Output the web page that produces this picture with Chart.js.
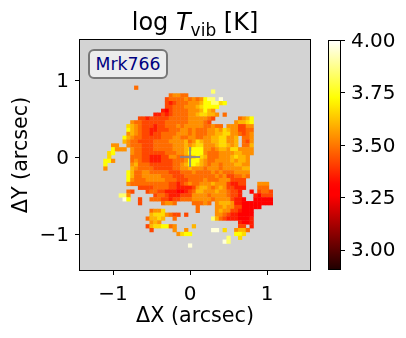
<!DOCTYPE html>
<html>
<head>
<meta charset="utf-8">
<script src="https://cdn.jsdelivr.net/npm/chart.js@4"></script>
<style>
  html, body { margin: 0; background: #fff; }
  body { position: relative; width: 406px; height: 338px; overflow: hidden; font-family: "DejaVu Sans"; }
  canvas { position: absolute; top: 0; }
  #title { position: absolute; left: 0; top: 8px; width: 390px; text-align: center; font-size: 24px; color: #000; }
  #title sub { font-size: 17px; line-height: 0; }
  #tag { position: absolute; left: 88px; top: 49px; width: 76px; height: 26px; line-height: 26px; text-align: center;
         font-size: 17.3px; color: #000080; background: #ececec; border: 2px solid #777; border-radius: 6px; }
</style>
</head>
<body>
<canvas id="map" width="406" height="338"></canvas>
<canvas id="bar" width="86" height="338" style="left:320px"></canvas>
<div id="title">log <i>T</i><sub>vib</sub> [K]</div>
<div id="tag">Mrk766</div>
<script>
// log Tvib per letter
const levels = { r: 3.30, R: 3.35, o: 3.42, O: 3.48, a: 3.54, A: 3.60, y: 3.66, Y: 3.72, w: 3.84, W: 3.96 };

// one spaxel = 0.05 arcsec, '.' is an empty spaxel
// rowWest starts at column -22, rowEast at column 2
const rowIndex = [18, 17, 16, 15, 14, 13, 12, 11, 10, 9, 8, 7, 6, 5, 4, 3, 2, 1, 0, -1, -2, -3, -4, -5, -6, -7, -8, -9, -10, -11, -12, -13, -14, -15, -16, -17, -18, -19, -20, -21, -22, -23];
const rowWest = [
  "........O",
  "",
  ".................OaaOO",
  "................oOOOOaOa",
  "................oRoOOOaa",
  "................ooOOOaaa",
  "...............RroOOOOaa",
  ".............RRoRoOOOOaa",
  ".........ooRoooooOOOOOaa",
  ".......aOOooooooOOOOOOaa",
  "......yAaOoooRooOOOaOaaa",
  "......YAaOooRRoooOOOaaOa",
  "......aAaOooRooOOOOaaaOa",
  ".....YAaOOoooooOOOaaOOaa",
  ".....AaOOooooOOOOaaaaAOa",
  "..aa..aOOOoooOOOOOaaaAaA",
  "..Yaaa.aOOoooOOOOOaaaAyY",
  ".yY....aOOooooooOOOaaAYY",
  ".y.....OOOooRRRooaaOOaAy",
  "YYa....OaOooRRRoooOOOaYY",
  "Y......aAOOOooooooOOaAYY",
  "a......AaOOOOoooooOOaaAa",
  "......YAOOaaOOOOOoooOOOa",
  "......YAOOaaaaaOOOoooOOO",
  "......YaOOOaaaaaOOOoooOO",
  "......aOOOOOOOOOOooRoOaO",
  ".........ooooOOOOooRRRRo",
  "......Oo...oOOooRRRrrRoO",
  "....wwa......oOOoRRRoooa",
  ".....WY..o..OOOooRooOOOa",
  ".........o.....OaaO....O",
  "",
  "............Oaay",
  "............AyyyaOoo.o",
  "...........OAAyA..O",
  "............aAa",
  "...........oAyyYYOa....A",
  "............o.....a..a",
  "...................ayYY",
  "",
  "",
  "......................W"
];
const rowEast = [
  "",
  "....w",
  "",
  "OaYww.W",
  "aAYYwwyY",
  "AyYYYY",
  "aAYAa",
  "AyyAAa.O",
  "aaaOo......OaAY",
  "aaOo......aAAyY",
  "aaOOaOO.aaaooaa",
  "OOOaaAayAaaooOO",
  "OOOaaAAyyaaOoOa",
  "OOaaAAyyaaA.OOa",
  "yAaaAAyyaaA.Ooa",
  "yyaaaAyyAaA.OOA",
  "YYaaOaAAayyaaaa",
  "YYaOOOaaaaAAaaa",
  "YyAOOOaaaAyAAa",
  "YAaOOaaaaAaAAa",
  "yAaOaaOaaaAAaa",
  "aaOaaaOaaaaaAA",
  "OOOOaOaOOOaaaa",
  "OOOOOaOaooOOaO",
  "OOaOOOaaaoooo",
  "OaaaAaaaoRRoo...aaa",
  "aAAaOaAaooRRR...OOO",
  "AAaaaAaaOooR..r.oOOo",
  "aaaOaaaaOooR...Rrooo",
  "aaaaOaaaaoRRr..rrrrr",
  "OOaO.aAAAaRRrrrrrrrr",
  "O....aaAaaoorrrrr",
  "O....aAaaooRrrr",
  ".....aaOoRRrrrr",
  "....wAOoRRRrrrR",
  "...........RrrR",
  "...........oo.R",
  "....WW.y..aAAO",
  "..........YYy",
  "........w..y",
  ".......Ww",
  ""
];

// tick labels
const mapTicks = [-1, 0, 1];
const barTicks = [3.00, 3.25, 3.50, 3.75, 4.00];
const barRange = [2.903, 4.0];
const starPos = [{ x: 0, y: 0 }];

const spaxel = 0.05;

// matplotlib "hot": black to red to yellow to white
function hot(v) {
  let t = (v - barRange[0]) / (barRange[1] - barRange[0]);
  let r = Math.min(1, (t + 0.0416) / 0.3651);
  let g = Math.max(0, Math.min(1, (t - 0.365) / 0.381));
  let b = Math.max(0, Math.min(1, (t - 0.746) / 0.254));
  return `rgb(${Math.round(r * 255)},${Math.round(g * 255)},${Math.round(b * 255)})`;
}

let cells = [];
function addCells(row, firstCol, r) {
  [...row].forEach((ch, j) => {
    if (ch === ".") return;
    cells.push({ x: (firstCol + j) * spaxel, y: r * spaxel, v: levels[ch] });
  });
}
rowIndex.forEach((r, i) => {
  addCells(rowWest[i], -22, r);
  addCells(rowEast[i], 2, r);
});

const minus = v => String(v).replace("-", "\u2212");

new Chart(document.getElementById("map"), {
  type: "scatter",
  data: {
    datasets: [
      {
        data: starPos,
        pointStyle: "cross",
        pointRadius: 10,
        pointBorderWidth: 2,
        pointBorderColor: "rgba(128,128,150,0.85)",
        pointBackgroundColor: "transparent",
        order: 0
      },
      {
        data: cells,
        pointStyle: "rect",
        pointRadius: 3,
        pointBorderWidth: 0,
        pointBackgroundColor: c => hot(c.raw.v),
        order: 1
      }
    ]
  },
  options: {
    responsive: false,
    animation: false,
    events: [],
    layout: { padding: { top: 40, right: 96, bottom: 0, left: 0 } },
    plugins: { legend: { display: false }, tooltip: { enabled: false } },
    scales: {
      x: {
        type: "linear",
        min: -1.43,
        max: 1.558,
        afterBuildTicks: s => { s.ticks = mapTicks.map(value => ({ value })); },
        afterFit: s => { s.height = 68; },
        grid: { display: false },
        border: { display: false },
        ticks: { color: "#000", font: { family: "DejaVu Sans", size: 20 }, padding: 5, maxRotation: 0, autoSkip: false, callback: minus },
        title: { display: true, text: "\u0394X (arcsec)", color: "#000", font: { family: "DejaVu Sans", size: 20.7 }, padding: { top: 0, bottom: 9 } }
      },
      y: {
        type: "linear",
        min: -1.468,
        max: 1.52,
        afterBuildTicks: s => { s.ticks = mapTicks.map(value => ({ value })); },
        afterFit: s => { s.width = 80; },
        grid: { display: false },
        border: { display: false },
        ticks: { color: "#000", font: { family: "DejaVu Sans", size: 20 }, padding: 3, labelOffset: 2, autoSkip: false, callback: minus },
        title: { display: true, text: "\u0394Y (arcsec)", color: "#000", font: { family: "DejaVu Sans", size: 20.7 }, padding: { top: 9, bottom: 0 } }
      }
    }
  },
  plugins: [{
    id: "frame",
    beforeDatasetsDraw(chart) {
      const a = chart.chartArea, ctx = chart.ctx;
      ctx.save();
      ctx.fillStyle = "#d3d3d3";
      ctx.fillRect(a.left, a.top, a.width, a.height);
      ctx.restore();
    },
    afterDraw(chart) {
      const a = chart.chartArea, ctx = chart.ctx;
      ctx.save();
      ctx.strokeStyle = "#000";
      ctx.lineWidth = 1;
      ctx.strokeRect(a.left - 0.5, a.top - 0.5, a.width + 1, a.height + 1);
      mapTicks.forEach(t => {
        let px = Math.round(chart.scales.x.getPixelForValue(t)) + 0.5;
        let py = Math.round(chart.scales.y.getPixelForValue(t)) + 0.5;
        ctx.beginPath();
        ctx.moveTo(px, a.bottom);
        ctx.lineTo(px, a.bottom + 5);
        ctx.moveTo(a.left - 5, py);
        ctx.lineTo(a.left, py);
        ctx.stroke();
      });
      ctx.restore();
    }
  }]
});

new Chart(document.getElementById("bar"), {
  type: "bar",
  data: {
    labels: ["log Tvib"],
    datasets: [{
      data: [barRange],
      barPercentage: 1,
      categoryPercentage: 1,
      backgroundColor: c => {
        const a = c.chart.chartArea;
        if (!a) return "#000";
        const g = c.chart.ctx.createLinearGradient(0, a.bottom, 0, a.top);
        for (let i = 0; i <= 40; i++) {
          g.addColorStop(i / 40, hot(barRange[0] + (barRange[1] - barRange[0]) * i / 40));
        }
        return g;
      }
    }]
  },
  options: {
    responsive: false,
    animation: false,
    events: [],
    layout: { padding: { top: 40, bottom: 68, left: 8, right: 0 } },
    plugins: { legend: { display: false }, tooltip: { enabled: false } },
    scales: {
      x: { display: false },
      y: {
        position: "right",
        min: barRange[0],
        max: barRange[1],
        afterBuildTicks: s => { s.ticks = barTicks.map(value => ({ value })); },
        afterFit: s => { s.width = 65; },
        grid: { display: false, drawTicks: false },
        border: { display: false },
        ticks: { color: "#000", font: { family: "DejaVu Sans", size: 20 }, padding: 10, labelOffset: 1.5, autoSkip: false, callback: v => v.toFixed(2) }
      }
    }
  },
  plugins: [{
    id: "barFrame",
    afterDraw(chart) {
      const a = chart.chartArea, ctx = chart.ctx;
      ctx.save();
      ctx.strokeStyle = "#000";
      ctx.lineWidth = 1;
      ctx.strokeRect(a.left + 0.5, a.top + 0.5, a.width - 1, a.height - 1);
      barTicks.forEach(t => {
        let py = Math.round(chart.scales.y.getPixelForValue(t)) + 0.5;
        ctx.beginPath();
        ctx.moveTo(a.right, py);
        ctx.lineTo(a.right + 4, py);
        ctx.stroke();
      });
      ctx.restore();
    }
  }]
});
</script>
</body>
</html>
